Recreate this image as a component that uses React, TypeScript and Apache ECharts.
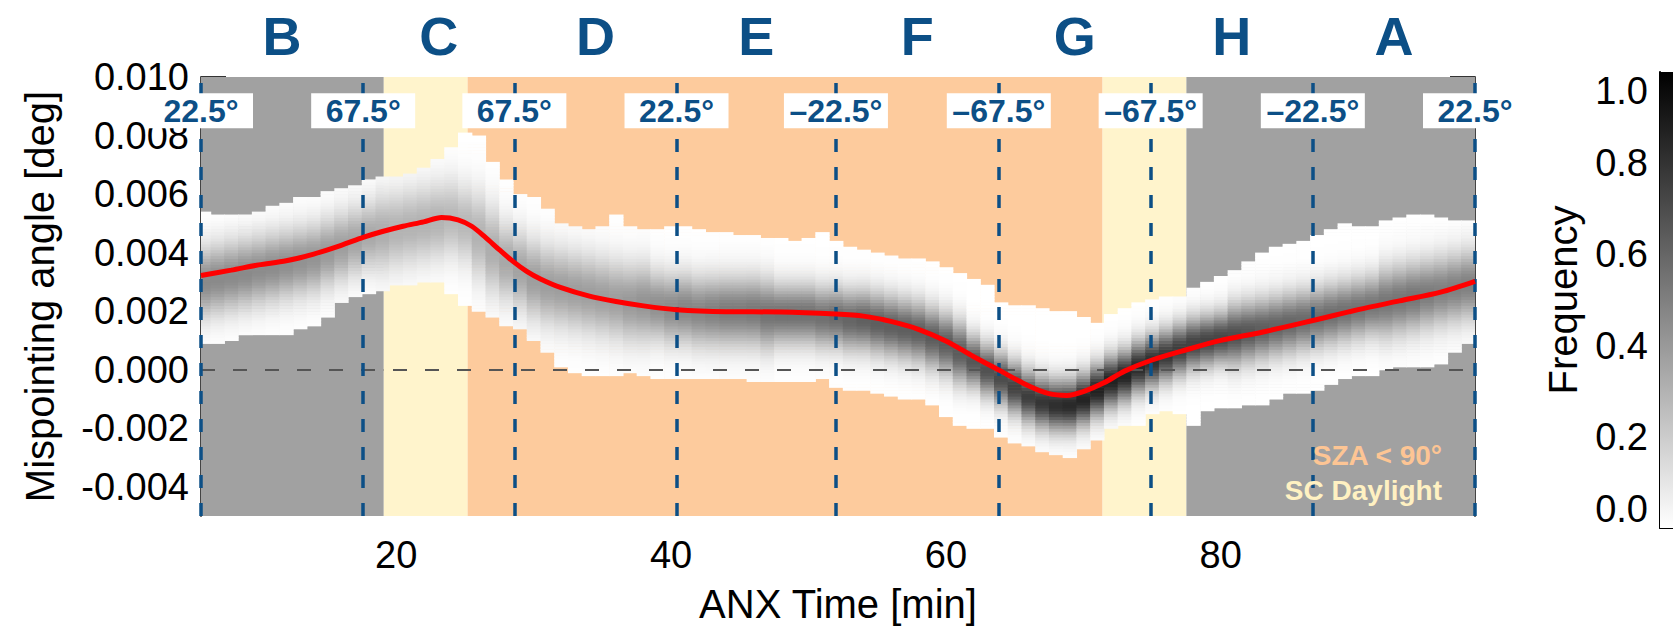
import React, { useEffect, useRef } from 'react';
import * as echarts from 'echarts';

const FONT = '"Liberation Sans", Arial, Helvetica, sans-serif';
const X_MIN = 5.8;
const X_MAX = 98.5;
const Y_MIN = -0.005;
const Y_MAX = 0.010;

const xTickLabels = [20, 40, 60, 80];
const xMinorTicks = [10, 15, 25, 30, 35, 45, 50, 55, 65, 70, 75, 85, 90, 95];
const yTickLabels = [-0.004, -0.002, 0, 0.002, 0.004, 0.006, 0.008, 0.010];
const yMinorTicks = [-0.0045, -0.0035, -0.003, -0.0025, -0.0015, -0.001, -0.0005, 0.0005, 0.001, 0.0015,
  0.0025, 0.003, 0.0035, 0.0045, 0.005, 0.0055, 0.0065, 0.007, 0.0075, 0.0085, 0.009, 0.0095];
const cbLabels = [0, 0.2, 0.4, 0.6, 0.8, 1.0];
const cbTicks = [0.1, 0.2, 0.3, 0.4, 0.5, 0.6, 0.7, 0.8, 0.9];

// Orbit sectors
const sectorLetters = ['B', 'C', 'D', 'E', 'F', 'G', 'H', 'A'];
const argLatTimes = [5.8, 17.6, 28.6, 40.4, 52.0, 63.85, 74.9, 86.7, 98.5];
const argLatLabels = ['22.5°', '67.5°', '67.5°', '22.5°', '–22.5°', '–67.5°', '–67.5°', '–22.5°', '22.5°'];

// Illumination bands
const bandStart = [5.8, 19.1, 25.2, 71.4, 77.5];
const bandEnd = [19.1, 25.2, 71.4, 77.5, 98.5];
const bandColor = ['#a1a1a1', '#fff4cc', '#fdcb9d', '#fff4cc', '#a1a1a1'];

// Mean mispointing (red curve)
const redT = [5.8, 8, 10, 12, 14, 16, 17.6, 19, 20.5, 22, 23.3, 24.5, 25.5, 26.5, 27.5, 28.5, 29.5, 30.5, 32, 34, 36, 38,
  40.4, 44, 48, 52, 54, 56, 58, 60, 62, 64, 66, 67.5, 68.8, 70, 71.5, 73, 75, 77.5, 80, 83, 86.7, 90, 93, 96, 98.5];
const redV = [0.00322, 0.0034, 0.00358, 0.00372, 0.00395, 0.00425, 0.00452, 0.00472, 0.0049, 0.00505, 0.0052, 0.00512,
  0.0049, 0.00452, 0.0041, 0.0037, 0.00336, 0.0031, 0.0028, 0.00252, 0.00233, 0.00218, 0.00205, 0.00198, 0.00197, 0.0019,
  0.00183, 0.00165, 0.00138, 0.00098, 0.00045, -0.00005, -0.00055, -0.00082, -0.00088, -0.00075, -0.00045, -0.00005,
  0.00033, 0.00068, 0.001, 0.00128, 0.00168, 0.00205, 0.00235, 0.00265, 0.00302];

// 2D histogram columns (1-min bins centred on these times)
const histTimes = [6, 7, 8, 9, 10, 11, 12, 13, 14, 15, 16, 17, 18, 19, 20, 21, 22, 23, 24, 25, 26, 27, 28, 29, 30, 31, 32,
  33, 34, 35, 36, 37, 38, 39, 40, 41, 42, 43, 44, 45, 46, 47, 48, 49, 50, 51, 52, 53, 54, 55, 56, 57, 58, 59, 60, 61, 62,
  63, 64, 65, 66, 67, 68, 69, 70, 71, 72, 73, 74, 75, 76, 77, 78, 79, 80, 81, 82, 83, 84, 85, 86, 87, 88, 89, 90, 91, 92,
  93, 94, 95, 96, 97, 98];
const histUpper = [
  0.0054, 0.0053, 0.0053, 0.0053, 0.0054, 0.0056, 0.0057, 0.0059, 0.0059, 0.0061,
  0.0062, 0.0063, 0.0065, 0.0066, 0.0066, 0.0067, 0.0069, 0.0072, 0.0076, 0.0081,
  0.0080, 0.0071, 0.0065, 0.0060, 0.0059, 0.0055, 0.0050, 0.0049, 0.0048, 0.0049,
  0.0053, 0.0049, 0.0048, 0.0048, 0.0049, 0.0049, 0.0048, 0.0047, 0.0047, 0.0046,
  0.0046, 0.0045, 0.0045, 0.0044, 0.0045, 0.0047, 0.0044, 0.0042, 0.0041, 0.0040,
  0.0039, 0.0038, 0.0038, 0.0037, 0.0035, 0.0033, 0.0031, 0.0029, 0.0023, 0.0022,
  0.0022, 0.0021, 0.0020, 0.0020, 0.0018, 0.0016, 0.0019, 0.0021, 0.0023, 0.0024,
  0.0025, 0.0025, 0.0028, 0.0030, 0.0032, 0.0034, 0.0037, 0.0040, 0.0042, 0.0043,
  0.0044, 0.0046, 0.0048, 0.0050, 0.0049, 0.0049, 0.0051, 0.0052, 0.0053, 0.0053,
  0.0052, 0.0051, 0.0051];
const histLower = [
  0.0009, 0.0009, 0.0010, 0.0012, 0.0012, 0.0012, 0.0012, 0.0014, 0.0015, 0.0018,
  0.0023, 0.0025, 0.0026, 0.0027, 0.0029, 0.0029, 0.0030, 0.0030, 0.0026, 0.0022,
  0.0020, 0.0018, 0.0015, 0.0014, 0.0010, 0.0006, 0.0001, -0.0001, -0.0002, -0.0002,
  -0.0002, -0.0001, -0.0002, -0.0003, -0.0003, -0.0003, -0.0003, -0.0003, -0.0003, -0.0003,
  -0.0004, -0.0004, -0.0004, -0.0004, -0.0004, -0.0003, -0.0006, -0.0007, -0.0007, -0.0008,
  -0.0009, -0.0010, -0.0010, -0.0012, -0.0016, -0.0019, -0.0020, -0.0020, -0.0023, -0.0025,
  -0.0026, -0.0028, -0.0029, -0.0030, -0.0027, -0.0024, -0.0020, -0.0019, -0.0019, -0.0015,
  -0.0014, -0.0015, -0.0019, -0.0014, -0.0013, -0.0013, -0.0012, -0.0012, -0.0010, -0.0008,
  -0.0008, -0.0007, -0.0005, -0.0003, -0.0002, -0.0002, 0.0000, 0.0001, 0.0001, 0.0001,
  0.0002, 0.0006, 0.0009];
const histMode = [
  0.0030, 0.0031, 0.0032, 0.0033, 0.0034, 0.0035, 0.0036, 0.0037, 0.0038, 0.0040,
  0.0042, 0.0044, 0.0046, 0.0047, 0.0048, 0.0049, 0.0050, 0.0051, 0.0052, 0.0050,
  0.0046, 0.0041, 0.0037, 0.0034, 0.0031, 0.0029, 0.0028, 0.0027, 0.0026, 0.0025,
  0.0024, 0.0023, 0.0023, 0.0022, 0.0021, 0.0021, 0.0020, 0.0020, 0.0020, 0.0020,
  0.0020, 0.0019, 0.0019, 0.0019, 0.0019, 0.0018, 0.0018, 0.0017, 0.0017, 0.0016,
  0.0015, 0.0014, 0.0013, 0.0011, 0.0009, 0.0006, 0.0003, 0.0000, -0.0003, -0.0006,
  -0.0009, -0.0011, -0.0012, -0.0012, -0.0010, -0.0007, -0.0004, -0.0002, 0.0001, 0.0003,
  0.0005, 0.0007, 0.0009, 0.0010, 0.0011, 0.0012, 0.0013, 0.0014, 0.0015, 0.0016,
  0.0017, 0.0018, 0.0019, 0.0020, 0.0021, 0.0022, 0.0023, 0.0024, 0.0025, 0.0026,
  0.0027, 0.0028, 0.0029];
const histPeak = [
  0.46, 0.46, 0.46, 0.46, 0.45, 0.45, 0.44, 0.43, 0.42, 0.40,
  0.38, 0.36, 0.34, 0.32, 0.30, 0.30, 0.30, 0.30, 0.28, 0.28,
  0.30, 0.32, 0.34, 0.36, 0.38, 0.38, 0.38, 0.38, 0.38, 0.38,
  0.38, 0.40, 0.42, 0.44, 0.46, 0.48, 0.48, 0.50, 0.52, 0.52,
  0.53, 0.55, 0.56, 0.56, 0.56, 0.56, 0.58, 0.60, 0.62, 0.63,
  0.63, 0.63, 0.63, 0.64, 0.64, 0.64, 0.66, 0.68, 0.70, 0.74,
  0.76, 0.79, 0.82, 0.84, 0.86, 0.87, 0.87, 0.86, 0.84, 0.82,
  0.78, 0.76, 0.74, 0.73, 0.72, 0.69, 0.66, 0.63, 0.61, 0.60,
  0.58, 0.57, 0.57, 0.56, 0.55, 0.54, 0.54, 0.54, 0.54, 0.52,
  0.50, 0.50, 0.50];
const histSigma = [
  0.0008, 0.0008, 0.0008, 0.0008, 0.0008, 0.0008, 0.0008, 0.0008, 0.0008, 0.0008,
  0.0008, 0.0008, 0.0008, 0.0009, 0.0009, 0.0009, 0.0009, 0.0009, 0.0009, 0.0009,
  0.0010, 0.0010, 0.0009, 0.0009, 0.0009, 0.0009, 0.0009, 0.0009, 0.0009, 0.0009,
  0.0009, 0.0009, 0.0009, 0.0008, 0.0008, 0.0008, 0.0008, 0.0008, 0.0008, 0.0008,
  0.0008, 0.0008, 0.0007, 0.0007, 0.0007, 0.0007, 0.0007, 0.0007, 0.0007, 0.0007,
  0.0007, 0.0007, 0.0007, 0.0007, 0.0007, 0.0007, 0.0006, 0.0006, 0.0006, 0.0006,
  0.0006, 0.0006, 0.0006, 0.0006, 0.0006, 0.0006, 0.0006, 0.0006, 0.0006, 0.0006,
  0.0006, 0.0006, 0.0006, 0.0006, 0.0006, 0.0007, 0.0007, 0.0007, 0.0007, 0.0007,
  0.0007, 0.0007, 0.0007, 0.0007, 0.0007, 0.0007, 0.0008, 0.0008, 0.0008, 0.0008,
  0.0008, 0.0008, 0.0008];

const COL_W = 1;
const ROW_H = 0.0001;
const LABEL_Y = 0.00885;
const BLUE = '#0c4f86';

function buildCells(): number[][] {
  const cells: number[][] = [];
  histTimes.forEach((t, i) => {
    const nLo = Math.round(histLower[i] / ROW_H);
    const nHi = Math.round(histUpper[i] / ROW_H);
    for (let k = nLo; k < nHi; k++) {
      const v = (k + 0.5) * ROW_H;
      const z = (v - histMode[i]) / histSigma[i];
      cells.push([t, v, histPeak[i] * Math.exp(-0.5 * z * z)]);
    }
  });
  return cells;
}

export default function App() {
  const ref = useRef<HTMLDivElement>(null);
  useEffect(() => {
    if (!ref.current) return;
    const chart = echarts.init(ref.current, undefined, { renderer: 'svg' });
    const tickStyle = { color: '#333', width: 2 };
    const frameLine = { show: true, lineStyle: { color: '#444', width: 2 } };
    const baseX = { gridIndex: 0, type: 'value', min: X_MIN, max: X_MAX, splitLine: { show: false } };
    const baseY = { gridIndex: 0, type: 'value', min: Y_MIN, max: Y_MAX, splitLine: { show: false } };
    const nameStyle = { fontSize: 40, color: '#000', fontFamily: FONT };

    const option: any = {
      animation: false,
      backgroundColor: '#ffffff',
      textStyle: { fontFamily: FONT },
      grid: [
        { left: 201, top: 77, width: 1274, height: 451 },
        { left: 1660, top: 72, width: 40, height: 456 },
      ],
      xAxis: [
        {
          ...baseX, position: 'bottom', axisLine: frameLine,
          axisTick: { inside: true, length: 9, customValues: xTickLabels, lineStyle: tickStyle },
          axisLabel: { customValues: xTickLabels, fontSize: 38, color: '#000', margin: 20, fontFamily: FONT },
          name: 'ANX Time [min]', nameLocation: 'middle', nameGap: 68,
          nameTextStyle: nameStyle,
        },
        {
          ...baseX, position: 'bottom', axisLine: { show: false },
          axisTick: { inside: true, length: 5, customValues: xMinorTicks, lineStyle: tickStyle },
          axisLabel: { show: false },
        },
        {
          ...baseX, position: 'top', axisLine: frameLine,
          axisTick: { inside: true, length: 9, customValues: xTickLabels, lineStyle: tickStyle },
          axisLabel: { show: false },
        },
        {
          ...baseX, position: 'top', axisLine: { show: false },
          axisTick: { inside: true, length: 5, customValues: xMinorTicks, lineStyle: tickStyle },
          axisLabel: { show: false },
        },
        {
          gridIndex: 1, type: 'category', data: ['f'], position: 'bottom',
          axisLine: { show: true, lineStyle: { color: '#000', width: 2 } },
          axisTick: { show: false }, axisLabel: { show: false },
        },
      ],
      yAxis: [
        {
          ...baseY, position: 'left', axisLine: frameLine,
          axisTick: { inside: true, length: 25, customValues: yTickLabels, lineStyle: tickStyle },
          axisLabel: {
            customValues: yTickLabels, fontSize: 38, color: '#000', margin: 12, fontFamily: FONT,
            padding: [0, 0, 6, 0],
            formatter: (v: number) => v.toFixed(3),
          },
          name: 'Mispointing angle [deg]', nameLocation: 'middle', nameGap: 141,
          nameTextStyle: nameStyle,
        },
        {
          ...baseY, position: 'left', axisLine: { show: false },
          axisTick: { inside: true, length: 12, customValues: yMinorTicks, lineStyle: tickStyle },
          axisLabel: { show: false },
        },
        {
          ...baseY, position: 'right', axisLine: frameLine,
          axisTick: { inside: true, length: 25, customValues: yTickLabels, lineStyle: tickStyle },
          axisLabel: { show: false },
        },
        {
          ...baseY, position: 'right', axisLine: { show: false },
          axisTick: { inside: true, length: 12, customValues: yMinorTicks, lineStyle: tickStyle },
          axisLabel: { show: false },
        },
        {
          gridIndex: 1, type: 'value', min: 0, max: 1, position: 'left', splitLine: { show: false },
          axisLine: { show: true, lineStyle: { color: '#000', width: 2 } },
          axisTick: { inside: true, length: 6, customValues: cbTicks, lineStyle: { color: '#333', width: 1.5 } },
          axisLabel: {
            customValues: cbLabels, fontSize: 38, color: '#000', margin: 12, fontFamily: FONT,
            formatter: (v: number) => v.toFixed(1),
            verticalAlignMinLabel: 'bottom', verticalAlignMaxLabel: 'top',
          },
          name: 'Frequency', nameLocation: 'middle', nameGap: 77,
          nameTextStyle: nameStyle,
        },
      ],
      series: [
        {
          type: 'custom',
          name: 'hist',
          xAxisIndex: 0,
          yAxisIndex: 0,
          z: 2,
          silent: true,
          encode: { x: 0, y: 1 },
          data: buildCells(),
          renderItem: (params: any, api: any) => {
            const t = api.value(0) as number;
            const v = api.value(1) as number;
            const f = api.value(2) as number;
            const a = api.coord([t - COL_W / 2, v + ROW_H / 2]);
            const b = api.coord([t + COL_W / 2, v - ROW_H / 2]);
            const cs = params.coordSys;
            const shape = echarts.graphic.clipRectByRect(
              { x: a[0], y: a[1], width: b[0] - a[0] + 0.6, height: b[1] - a[1] + 0.6 },
              { x: cs.x, y: cs.y, width: cs.width, height: cs.height }
            );
            if (!shape) return null;
            const g = Math.max(0, Math.min(255, Math.round(255 * (1 - f))));
            return { type: 'rect', shape, style: { fill: `rgb(${g},${g},${g})` } };
          },
          markArea: {
            silent: true,
            z: 1,
            data: bandStart.map((s, i) => [
              { xAxis: s, itemStyle: { color: bandColor[i], opacity: 1 } },
              { xAxis: bandEnd[i] },
            ]),
          },
          markLine: {
            silent: true,
            z: 3,
            symbol: 'none',
            label: { show: false },
            lineStyle: { color: '#555', width: 2, type: [14, 18] },
            data: [{ yAxis: 0 }],
          },
        },
        {
          type: 'line',
          name: 'mean',
          xAxisIndex: 0,
          yAxisIndex: 0,
          z: 4,
          silent: true,
          smooth: 0.3,
          showSymbol: false,
          data: redT.map((t, i) => [t, redV[i]]),
          lineStyle: { color: '#ff0000', width: 5 },
          markLine: {
            silent: true,
            z: 3,
            symbol: 'none',
            label: { show: false },
            lineStyle: { color: BLUE, width: 3.5, type: [13, 15] },
            data: argLatTimes.map((t) => ({ xAxis: t })),
          },
        },
        {
          type: 'scatter',
          name: 'arglat',
          xAxisIndex: 0,
          yAxisIndex: 0,
          z: 6,
          silent: true,
          clip: false,
          symbolSize: 0,
          itemStyle: { opacity: 1 },
          data: argLatTimes.map((t) => [t, LABEL_Y]),
          label: {
            show: true,
            position: 'inside',
            opacity: 1,
            formatter: (p: any) => argLatLabels[p.dataIndex],
            color: BLUE,
            fontWeight: 'bold',
            fontSize: 32,
            fontFamily: FONT,
            backgroundColor: '#ffffff',
            width: 104,
            height: 35,
            lineHeight: 35,
            align: 'center',
            verticalAlign: 'middle',
          },
        },
        {
          type: 'bar',
          name: 'colorbar',
          xAxisIndex: 4,
          yAxisIndex: 4,
          silent: true,
          barWidth: '100%',
          data: [1],
          itemStyle: {
            color: new echarts.graphic.LinearGradient(0, 0, 0, 1, [
              { offset: 0, color: '#000000' },
              { offset: 1, color: '#ffffff' },
            ]),
          },
        },
      ],
    };
    chart.setOption(option);

    const bounds = argLatTimes;
    const letterGraphics = sectorLetters.map((L, i) => {
      const mid = (bounds[i] + bounds[i + 1]) / 2;
      const px = chart.convertToPixel({ xAxisIndex: 0 } as any, mid) as unknown as number;
      return {
        type: 'text',
        x: px,
        y: 36,
        z: 10,
        style: {
          text: L, fill: BLUE, font: `bold 54px ${FONT}`,
          textAlign: 'center', textVerticalAlign: 'middle',
        },
      };
    });
    chart.setOption({
      graphic: [
        ...letterGraphics,
        {
          type: 'text', x: 1442, y: 455, z: 10,
          style: { text: 'SZA < 90°', fill: '#fdc594', font: `bold 28px ${FONT}`, textAlign: 'right', textVerticalAlign: 'middle' },
        },
        {
          type: 'text', x: 1442, y: 490, z: 10,
          style: { text: 'SC Daylight', fill: '#fff1c2', font: `bold 28px ${FONT}`, textAlign: 'right', textVerticalAlign: 'middle' },
        },
      ],
    });

    return () => chart.dispose();
  }, []);

  return (
    <div
      ref={ref}
      style={{ position: 'fixed', left: 0, top: 0, width: 1673, height: 629 }}
    />
  );
}
